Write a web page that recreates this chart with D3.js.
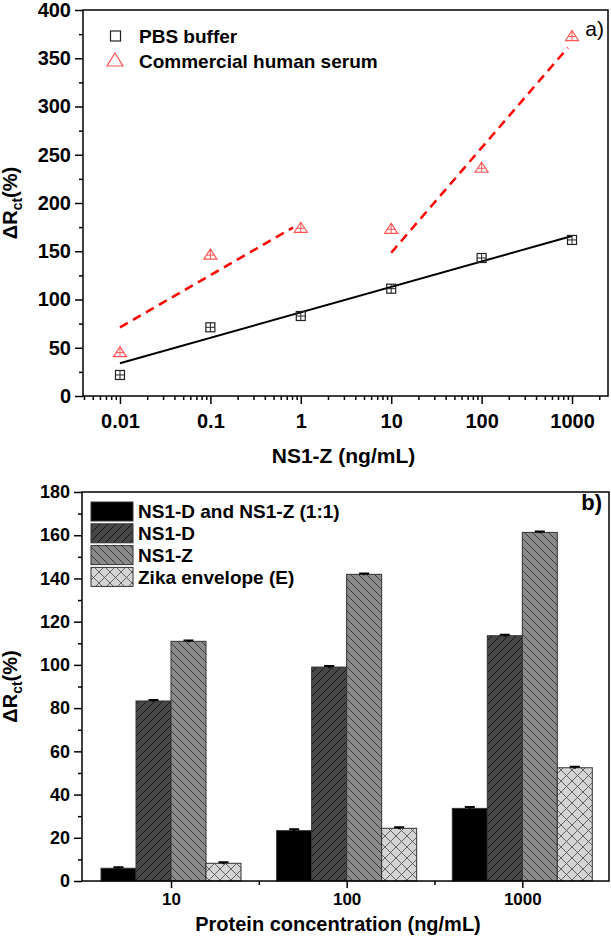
<!DOCTYPE html>
<html>
<head>
<meta charset="utf-8">
<script src="https://cdn.jsdelivr.net/npm/d3@7"></script>
<style>
  body { margin: 0; background: #fff; }
  svg { display: block; }
  text { font-family: "Liberation Sans", Arial, sans-serif; }
</style>
</head>
<body>
<svg id="chart" width="611" height="936"></svg>
<script>
// ---- panel a) data ----
const concA = [0.01, 0.1, 1, 10, 100, 1000];
const concLabels = ["0.01", "0.1", "1", "10", "100", "1000"];
const pbsValues = [21.8, 71.2, 82.9, 111.2, 143, 161.7];
const serumValues = [44.9, 146, 173.8, 172.7, 236, 372.5];
// linear fits (in log x), given by end points
const pbsFit = [[0.01, 33.9], [1000, 165.8]];
const serumFit1 = [[0.01, 71.2], [0.82, 174.5]];
const serumFit2 = [[10, 148.5], [900, 361]];

// ---- panel b) data ----
const groupsB = ["10", "100", "1000"];
const seriesB = ["NS1-D and NS1-Z (1:1)", "NS1-D", "NS1-Z", "Zika envelope (E)"];
const comboValues = [5.9, 23.3, 33.6];
const ns1dValues = [83.3, 99.0, 113.5];
const ns1zValues = [110.9, 141.9, 161.3];
const zikaValues = [8.2, 24.4, 52.4];
const comboErr = [0.5, 0.6, 0.6];
const ns1dErr = [0.4, 0.5, 0.4];
const ns1zErr = [0.4, 0.4, 0.4];
const zikaErr = [0.5, 0.5, 0.5];

const svg = d3.select("#chart");
const font = "Liberation Sans, Arial, sans-serif";

// patterns for the bars
let defs = svg.append("defs");
function hatch(id, bg, line, size, d) {
    let p = defs.append("pattern").attr("id", id)
        .attr("patternUnits", "userSpaceOnUse")
        .attr("width", size).attr("height", size);
    p.append("rect").attr("width", size).attr("height", size).attr("fill", bg);
    p.append("path").attr("d", d).attr("stroke", line).attr("stroke-width", 0.9).attr("fill", "none");
}
hatch("fwd", "#474747", "#111", 8, "M0,8 L8,0 M-2,2 L2,-2 M6,10 L10,6");
hatch("back", "#8a8a8a", "#333", 8, "M0,0 L8,8 M-2,6 L2,10 M6,-2 L10,2");
hatch("cross", "#d4d4d4", "#555", 11, "M0,0 L11,11 M0,11 L11,0");

const fills = ["#000", "url(#fwd)", "url(#back)", "url(#cross)"];

function styleAxis(g, size) {
    g.select(".domain").remove();
    g.selectAll("line").attr("stroke", "#000").attr("stroke-width", 1.5);
    g.selectAll("text").attr("font-family", font).attr("font-size", size)
        .attr("font-weight", "bold").attr("fill", "#000");
}

function yLabel(cx, cy) {
    let t = svg.append("text")
        .attr("transform", `translate(${cx},${cy}) rotate(-90)`)
        .attr("text-anchor", "middle")
        .attr("font-size", 20).attr("font-weight", "bold");
    t.append("tspan").text("\u0394R");
    t.append("tspan").attr("font-size", 14).attr("dy", 5).text("ct");
    t.append("tspan").attr("dy", -5).text("(%)");
}

// ================= panel a =================
function drawTop() {
    let left = 83, right = 608, top = 10, bottom = 396;
    let x = d3.scaleLog().domain([0.0039, 2500]).range([left, right]);
    let y = d3.scaleLinear().domain([0, 400]).range([bottom, top]);

    let g = svg.append("g");

    // axes
    g.append("g").attr("transform", `translate(${left},0)`)
        .call(d3.axisLeft(y).tickValues(d3.range(25, 400, 50)).tickSize(4).tickFormat(""))
        .call(a => styleAxis(a, 20));
    g.append("g").attr("transform", `translate(${left},0)`)
        .call(d3.axisLeft(y).tickValues(d3.range(0, 401, 50)).tickSize(8).tickPadding(4))
        .call(a => styleAxis(a, 20));

    let minor = x.ticks().filter(v => Math.abs(Math.log10(v) - Math.round(Math.log10(v))) > 1e-6);
    g.append("g").attr("transform", `translate(0,${bottom})`)
        .call(d3.axisBottom(x).tickValues(minor).tickSize(4).tickFormat(""))
        .call(a => styleAxis(a, 20));
    g.append("g").attr("transform", `translate(0,${bottom})`)
        .call(d3.axisBottom(x).tickValues(concA).tickSize(8).tickPadding(10)
            .tickFormat((d, i) => concLabels[i]))
        .call(a => styleAxis(a, 20));

    g.append("rect").attr("x", left).attr("y", top)
        .attr("width", right - left).attr("height", bottom - top)
        .attr("fill", "none").attr("stroke", "#000").attr("stroke-width", 1.5);

    // fit lines
    let line = d3.line().x(d => x(d[0])).y(d => y(d[1]));
    g.append("path").attr("d", line(pbsFit)).attr("stroke", "#000")
        .attr("stroke-width", 2).attr("fill", "none");
    [serumFit1, serumFit2].forEach(f => {
        g.append("path").attr("d", line(f)).attr("stroke", "#ff0000")
            .attr("stroke-width", 2.5).attr("stroke-dasharray", "9,6").attr("fill", "none");
    });

    // markers
    let sq = 4.5;
    concA.forEach((c, i) => {
        let cx = x(c), cy = y(pbsValues[i]);
        g.append("rect").attr("x", cx - sq).attr("y", cy - sq)
            .attr("width", sq * 2).attr("height", sq * 2)
            .attr("fill", "none").attr("stroke", "#222").attr("stroke-width", 1.2);
        g.append("path").attr("d", `M${cx - sq},${cy} H${cx + sq} M${cx},${cy - sq} V${cy + sq}`)
            .attr("stroke", "#222").attr("stroke-width", 1);
    });
    let tw = 6.5, th = 10;
    concA.forEach((c, i) => {
        let cx = x(c), cy = y(serumValues[i]);
        g.append("path")
            .attr("d", `M${cx},${cy - th * 0.6} L${cx + tw},${cy + th * 0.4} L${cx - tw},${cy + th * 0.4} Z`)
            .attr("fill", "none").attr("stroke", "#ff5555").attr("stroke-width", 1.2);
        g.append("path").attr("d", `M${cx - tw * 0.6},${cy} H${cx + tw * 0.6} M${cx},${cy - th * 0.6} V${cy + th * 0.4}`)
            .attr("stroke", "#ff5555").attr("stroke-width", 1);
    });

    // legend
    g.append("rect").attr("x", 110.5).attr("y", 31).attr("width", 10).attr("height", 10)
        .attr("fill", "none").attr("stroke", "#222").attr("stroke-width", 1.2);
    g.append("path").attr("d", "M115,53 L123,66 L107,66 Z")
        .attr("fill", "none").attr("stroke", "#ff5555").attr("stroke-width", 1.2);
    g.append("text").attr("x", 139).attr("y", 36).attr("dy", "0.35em")
        .attr("font-size", 19).attr("font-weight", "bold").text("PBS buffer");
    g.append("text").attr("x", 139).attr("y", 61).attr("dy", "0.35em")
        .attr("font-size", 19).attr("font-weight", "bold").text("Commercial human serum");
    g.append("text").attr("x", 604).attr("y", 29).attr("dy", "0.35em").attr("text-anchor", "end")
        .attr("font-size", 21).text("a)");

    g.append("text").attr("x", (left + right) / 2 - 2).attr("y", 456).attr("dy", "0.35em")
        .attr("text-anchor", "middle").attr("font-size", 21).attr("font-weight", "bold")
        .text("NS1-Z (ng/mL)");
    yLabel(17, (top + bottom) / 2);
}

// ================= panel b =================
function drawBottom() {
    let left = 82, right = 609, top = 492, bottom = 881;
    let x = d3.scalePoint().domain(groupsB).range([171, 522.3]);
    let xs = d3.scaleBand().domain(seriesB).range([-70, 70]);
    let y = d3.scaleLinear().domain([0, 180]).range([bottom, top]);

    let g = svg.append("g");

    g.append("g").attr("transform", `translate(${left},0)`)
        .call(d3.axisLeft(y).tickValues(d3.range(10, 180, 20)).tickSize(4).tickFormat(""))
        .call(a => styleAxis(a, 18));
    g.append("g").attr("transform", `translate(${left},0)`)
        .call(d3.axisLeft(y).tickValues(d3.range(0, 181, 20)).tickSize(8).tickPadding(4))
        .call(a => styleAxis(a, 18));

    let mids = [(x("10") + x("100")) / 2, (x("100") + x("1000")) / 2];
    let xm = d3.scaleIdentity();
    g.append("g").attr("transform", `translate(0,${bottom})`)
        .call(d3.axisBottom(xm).tickValues(mids).tickSize(4).tickFormat(""))
        .call(a => styleAxis(a, 18));
    g.append("g").attr("transform", `translate(0,${bottom})`)
        .call(d3.axisBottom(x).tickSize(7).tickPadding(5))
        .call(a => styleAxis(a, 17));

    let values = [comboValues, ns1dValues, ns1zValues, zikaValues];
    let errs = [comboErr, ns1dErr, ns1zErr, zikaErr];

    seriesB.forEach((s, si) => {
        groupsB.forEach((grp, gi) => {
            let v = values[si][gi];
            let bx = x(grp) + xs(s);
            g.append("rect").attr("x", bx).attr("y", y(v))
                .attr("width", xs.bandwidth()).attr("height", y(0) - y(v))
                .attr("fill", fills[si]).attr("stroke", "#333").attr("stroke-width", 1);
            // error bar
            let cx = bx + xs.bandwidth() / 2, e = errs[si][gi];
            g.append("path")
                .attr("d", `M${cx},${y(v - e)} V${y(v + e)} M${cx - 5},${y(v + e)} H${cx + 5}`)
                .attr("stroke", "#000").attr("stroke-width", 2).attr("fill", "none");
        });
    });

    g.append("rect").attr("x", left).attr("y", top)
        .attr("width", right - left).attr("height", bottom - top)
        .attr("fill", "none").attr("stroke", "#000").attr("stroke-width", 1.5);

    // legend
    seriesB.forEach((s, i) => {
        let ly = 502 + i * 21.8;
        g.append("rect").attr("x", 91).attr("y", ly).attr("width", 42).attr("height", 19)
            .attr("fill", fills[i]).attr("stroke", "#333").attr("stroke-width", 1);
        g.append("text").attr("x", 138).attr("y", ly + 9.5).attr("dy", "0.35em")
            .attr("font-size", 19).attr("font-weight", "bold").text(s);
    });
    g.append("text").attr("x", 602).attr("y", 502).attr("dy", "0.35em").attr("text-anchor", "end")
        .attr("font-size", 22).attr("font-weight", "bold").text("b)");

    g.append("text").attr("x", 338).attr("y", 931)
        .attr("text-anchor", "middle").attr("font-size", 20).attr("font-weight", "bold")
        .text("Protein concentration (ng/mL)");
    yLabel(17, (top + bottom) / 2);
}

drawTop();
drawBottom();
</script>
</body>
</html>
